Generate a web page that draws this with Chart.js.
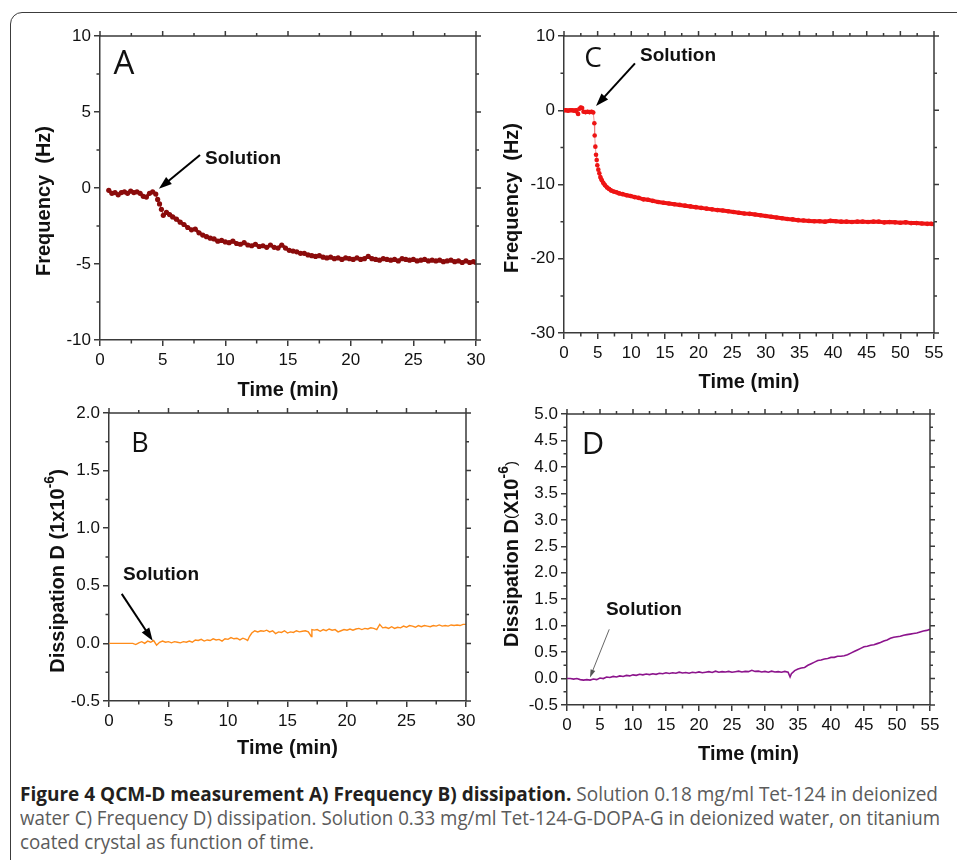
<!DOCTYPE html>
<html>
<head>
<meta charset="utf-8">
<script src="https://cdn.jsdelivr.net/npm/chart.js@4.4.1/dist/chart.umd.min.js"></script>
<style>
  html, body { margin: 0; padding: 0; background: #fff; width: 957px; height: 860px; overflow: hidden; }
  #frame { position: absolute; left: 10px; top: 12px; width: 1000px; height: 900px;
           border: 1.5px solid #3c3c3c; border-radius: 12px; box-sizing: border-box; }
  canvas { position: absolute; }
  #chartA { left: 0; top: 0; }
  #chartC { left: 480px; top: 0; }
  #chartB { left: 0; top: 390px; }
  #chartD { left: 480px; top: 390px; }
  .cap { position: absolute; left: 20px; white-space: nowrap; font-family: "Open Sans", sans-serif;
         font-size: 20px; line-height: 24px; color: #5b5b5b; transform-origin: 0 0; }
  .cap b { color: #231f20; font-weight: 700; }
</style>
</head>
<body>
<div id="frame"></div>
<canvas id="chartA" width="495" height="400"></canvas>
<canvas id="chartB" width="480" height="380"></canvas>
<canvas id="chartC" width="477" height="400"></canvas>
<canvas id="chartD" width="477" height="380"></canvas>
<div class="cap" style="top:782px"><b>Figure 4 QCM-D measurement A) Frequency B) dissipation.</b> Solution 0.18 mg/ml Tet-124 in deionized</div>
<div class="cap" style="top:806px">water C) Frequency D) dissipation. Solution 0.33 mg/ml Tet-124-G-DOPA-G in deionized water, on titanium</div>
<div class="cap" style="top:830px">coated crystal as function of time.</div>

<script>
// A: frequency shift, Tet-124 (min, Hz)
const timeA = [0.7, 0.95, 1.2, 1.45, 1.7, 1.95, 2.2, 2.45, 2.7, 2.95, 3.2, 3.45, 3.7, 3.95, 4.2, 4.45,
  4.6, 4.75, 4.9, 5.05, 5.3, 5.55, 5.8, 6.1, 6.4, 6.7, 7.0, 7.3, 7.6, 7.9, 8.2, 8.5, 8.8, 9.1, 9.4, 9.7,
  10.0, 10.3, 10.6, 10.9, 11.2, 11.5, 11.8, 12.1, 12.4, 12.7, 13.0, 13.3, 13.6, 13.9, 14.2, 14.5, 14.8,
  15.1, 15.4, 15.7, 16.0, 16.3, 16.6, 16.9, 17.2, 17.5, 17.8, 18.1, 18.4, 18.7, 19.0, 19.3, 19.6, 19.9,
  20.2, 20.5, 20.8, 21.1, 21.4, 21.7, 22.0, 22.3, 22.6, 22.9, 23.2, 23.5, 23.8, 24.1, 24.4, 24.7, 25.0,
  25.3, 25.6, 25.9, 26.2, 26.5, 26.8, 27.1, 27.4, 27.7, 28.0, 28.3, 28.6, 28.9, 29.2, 29.5, 29.8, 30.0];
const freqA = [-0.15, -0.35, -0.3, -0.45, -0.3, -0.25, -0.35, -0.2, -0.3, -0.25, -0.35, -0.55, -0.6, -0.35, -0.25, -0.4,
  -0.75, -1.05, -1.4, -1.8, -1.6, -1.75, -1.9, -2.05, -2.25, -2.4, -2.6, -2.75, -2.7, -2.95, -3.1, -3.2, -3.3, -3.35, -3.5, -3.45,
  -3.55, -3.6, -3.5, -3.65, -3.7, -3.6, -3.75, -3.8, -3.7, -3.85, -3.8, -3.9, -3.75, -3.9, -3.95, -3.75, -3.95,
  -4.1, -4.15, -4.2, -4.3, -4.3, -4.4, -4.45, -4.5, -4.45, -4.55, -4.6, -4.55, -4.65, -4.6, -4.7, -4.6, -4.65,
  -4.7, -4.6, -4.7, -4.65, -4.5, -4.65, -4.7, -4.75, -4.65, -4.7, -4.75, -4.7, -4.8, -4.65, -4.7, -4.75, -4.7,
  -4.8, -4.75, -4.7, -4.8, -4.75, -4.8, -4.75, -4.85, -4.8, -4.75, -4.85, -4.8, -4.9, -4.8, -4.9, -4.85, -4.9];

// B: dissipation, Tet-124 (min, 1e-6)
const timeB = [0, 0.25, 0.5, 0.75, 1.0, 1.25, 1.5, 1.75, 2.0, 2.25, 2.5, 2.75, 3.0, 3.25, 3.5, 3.75, 4.0,
  4.25, 4.5, 4.75, 5.0, 5.25, 5.5, 5.75, 6.0, 6.25, 6.5, 6.75, 7.0, 7.25, 7.5, 7.75, 8.0, 8.25, 8.5, 8.75,
  9.0, 9.25, 9.5, 9.75, 10.0, 10.25, 10.5, 10.75, 11.0, 11.25, 11.5, 11.65, 11.8, 12.0, 12.25, 12.5, 12.75,
  13.0, 13.25, 13.5, 13.75, 14.0, 14.25, 14.5, 14.75, 15.0, 15.25, 15.5, 15.75, 16.0, 16.25, 16.5, 16.75,
  17.0, 17.05, 17.25, 17.5, 17.75, 18.0, 18.25, 18.5, 18.75, 19.0, 19.25, 19.5, 19.75, 20.0, 20.25, 20.5,
  20.75, 21.0, 21.25, 21.5, 21.75, 22.0, 22.25, 22.5, 22.75, 23.0, 23.25, 23.5, 23.75, 24.0, 24.25, 24.5,
  24.75, 25.0, 25.25, 25.5, 25.75, 26.0, 26.25, 26.5, 26.75, 27.0, 27.25, 27.5, 27.75, 28.0, 28.25, 28.5,
  28.75, 29.0, 29.25, 29.5, 29.75, 30.0];
const dissB = [0, 0, 0, 0, 0, 0, 0, 0, 0, -0.01, 0.005, 0.015, 0, 0.02, 0.01, 0.025, -0.015,
  0.01, 0.02, 0.01, 0.015, 0.005, 0.015, 0.01, 0.005, 0.015, 0.01, 0.02, 0.01, 0.03, 0.025, 0.035, 0.02, 0.03, 0.025, 0.04,
  0.03, 0.035, 0.02, 0.04, 0.035, 0.05, 0.04, 0.045, 0.03, 0.045, 0.035, 0.025, 0.06, 0.09, 0.11, 0.1, 0.11,
  0.105, 0.115, 0.1, 0.11, 0.085, 0.1, 0.095, 0.11, 0.09, 0.1, 0.095, 0.11, 0.1, 0.105, 0.11, 0.1,
  0.06, 0.12, 0.115, 0.12, 0.105, 0.12, 0.11, 0.125, 0.115, 0.12, 0.1, 0.11, 0.12, 0.115, 0.125, 0.115,
  0.125, 0.13, 0.12, 0.13, 0.125, 0.135, 0.13, 0.12, 0.165, 0.135, 0.14, 0.13, 0.145, 0.13, 0.14, 0.135,
  0.15, 0.14, 0.155, 0.15, 0.14, 0.155, 0.145, 0.155, 0.15, 0.145, 0.155, 0.15, 0.16, 0.15, 0.155, 0.15,
  0.16, 0.155, 0.16, 0.155, 0.165, 0.165];

// C: frequency shift, Tet-124-G-DOPA-G (min, Hz)
const timeC = [0, 0.3, 0.6, 0.9, 1.2, 1.5, 1.8, 2.1, 2.3, 2.5, 2.7, 2.9, 3.2, 3.5, 3.8, 4.1, 4.35,
  4.51, 4.56, 4.66, 4.76, 4.86, 4.95, 5.1, 5.25, 5.4, 5.6, 5.85, 6.1, 6.4, 6.7, 7.0, 7.4, 7.8, 8.2, 8.7,
  9.3, 9.9, 10.5, 11.1, 11.8, 12.5, 13.2, 14.0, 14.8, 15.6, 16.4, 17.2, 18.0, 18.8, 19.6, 20.4, 21.2,
  22.0, 22.8, 23.6, 24.4, 25.2, 26.0, 26.8, 27.6, 28.4, 29.2, 30.0, 30.8, 31.6, 32.4, 33.2, 34.0, 34.8,
  35.6, 36.4, 37.2, 38.0, 38.8, 39.6, 40.4, 41.2, 42.0, 42.8, 43.6, 44.4, 45.2, 46.0, 46.8, 47.6, 48.4,
  49.2, 50.0, 50.8, 51.6, 52.4, 53.2, 54.0, 54.6, 55.0];
const freqC = [0, 0, -0.05, 0, 0, -0.05, 0, -0.5, 0.2, 0.35, 0.3, -0.2, -0.25, -0.2, -0.25, -0.2, -0.3,
  -1.75, -3.4, -4.9, -6.0, -6.7, -7.4, -8.0, -8.5, -9.0, -9.4, -9.8, -10.1, -10.4, -10.6, -10.8, -10.95, -11.05, -11.2, -11.3,
  -11.45, -11.55, -11.7, -11.8, -12.0, -12.05, -12.2, -12.35, -12.45, -12.55, -12.65, -12.75, -12.85, -12.95, -13.05, -13.15, -13.25,
  -13.35, -13.45, -13.5, -13.6, -13.7, -13.8, -13.9, -13.95, -14.05, -14.15, -14.25, -14.35, -14.45, -14.55, -14.65, -14.7, -14.8,
  -14.85, -14.9, -14.95, -14.95, -15.0, -14.9, -14.95, -15.0, -15.0, -15.05, -15.0, -15.0, -15.05, -15.0, -15.0, -15.1, -15.05,
  -15.1, -15.15, -15.1, -15.2, -15.2, -15.25, -15.3, -15.3, -15.35];

// D: dissipation, Tet-124-G-DOPA-G (min, 1e-6)
const timeD = [0, 0.5, 1.0, 1.5, 2.0, 2.5, 3.0, 3.5, 4.0, 4.5, 5.0, 5.5, 6.0, 6.5, 7.0, 7.5, 8.0, 8.5,
  9.0, 9.5, 10.0, 10.5, 11.0, 11.5, 12.0, 12.5, 13.0, 13.5, 14.0, 14.5, 15.0, 15.5, 16.0, 16.5, 17.0, 17.5,
  18.0, 18.5, 19.0, 19.5, 20.0, 20.5, 21.0, 21.5, 22.0, 22.5, 23.0, 23.5, 24.0, 24.5, 25.0, 25.5, 26.0,
  26.5, 27.0, 27.5, 28.0, 28.5, 29.0, 29.5, 30.0, 30.5, 31.0, 31.5, 32.0, 32.5, 33.0, 33.5, 33.8, 34.0,
  34.5, 35.0, 35.5, 36.0, 36.5, 37.0, 37.5, 38.0, 38.5, 39.0, 39.5, 40.0, 40.5, 41.0, 41.5, 42.0, 42.5,
  43.0, 43.5, 44.0, 44.5, 45.0, 45.5, 46.0, 46.5, 47.0, 47.5, 48.0, 48.5, 49.0, 49.5, 50.0, 50.5, 51.0,
  51.5, 52.0, 52.5, 53.0, 53.5, 54.0, 54.5, 55.0];
const dissD = [0, 0, -0.01, 0, -0.02, -0.03, -0.02, -0.03, -0.01, -0.02, 0.01, 0, 0.03, 0.02, 0.04, 0.03, 0.05, 0.04,
  0.06, 0.05, 0.07, 0.06, 0.08, 0.07, 0.085, 0.075, 0.09, 0.08, 0.1, 0.09, 0.11, 0.095, 0.11, 0.1, 0.12, 0.105,
  0.115, 0.1, 0.12, 0.11, 0.125, 0.11, 0.12, 0.13, 0.115, 0.14, 0.12, 0.13, 0.125, 0.135, 0.12, 0.13, 0.14,
  0.125, 0.135, 0.13, 0.155, 0.135, 0.14, 0.125, 0.135, 0.12, 0.14, 0.125, 0.13, 0.12, 0.135, 0.12, 0.03, 0.09,
  0.15, 0.18, 0.2, 0.21, 0.25, 0.28, 0.31, 0.34, 0.35, 0.37, 0.38, 0.4, 0.4, 0.42, 0.42, 0.43, 0.45,
  0.48, 0.51, 0.54, 0.57, 0.6, 0.61, 0.63, 0.64, 0.66, 0.68, 0.71, 0.73, 0.76, 0.78, 0.79, 0.8, 0.82,
  0.83, 0.84, 0.85, 0.86, 0.88, 0.9, 0.91, 0.93];

const ink = '#3a3a3a';
const sans = '"Liberation Sans", Arial, sans-serif';

const points = (ts, vs) => ts.map((t, i) => ({ x: t, y: vs[i] }));

// frame, mirrored/minor ticks, axis titles, panel letter and the "Solution" arrow
const decor = {
  id: 'decor',
  afterDraw(chart, args, o) {
    const ctx = chart.ctx;
    const { left, right, top, bottom } = chart.chartArea;
    const xs = chart.scales.x, ys = chart.scales.y;
    const mids = tk => tk.slice(1).map((k, i) => (tk[i].value + k.value) / 2);
    ctx.save();
    ctx.strokeStyle = ink;
    ctx.lineWidth = 1.5;
    ctx.beginPath();
    ctx.moveTo(left, top); ctx.lineTo(right, top); ctx.lineTo(right, bottom);
    xs.ticks.forEach(t => { const p = xs.getPixelForValue(t.value); ctx.moveTo(p, top); ctx.lineTo(p, top - 5); });
    mids(xs.ticks).forEach(v => {
      const p = xs.getPixelForValue(v);
      ctx.moveTo(p, top); ctx.lineTo(p, top - 3);
      ctx.moveTo(p, bottom); ctx.lineTo(p, bottom + 3.5);
    });
    ys.ticks.forEach(t => { const p = ys.getPixelForValue(t.value); ctx.moveTo(right, p); ctx.lineTo(right + 5, p); });
    mids(ys.ticks).forEach(v => {
      const p = ys.getPixelForValue(v);
      ctx.moveTo(right, p); ctx.lineTo(right + 3, p);
      ctx.moveTo(left, p); ctx.lineTo(left - 3.5, p);
    });
    ctx.stroke();

    ctx.fillStyle = '#111';
    // x title
    ctx.font = 'bold 20px ' + sans;
    ctx.textAlign = 'center';
    ctx.textBaseline = 'middle';
    ctx.fillText('Time (min)', (left + right) / 2, o.xTitleY);

    // y title, rotated, built from parts (superscripts raised)
    ctx.save();
    ctx.translate(o.yTitle.x, o.yTitle.y);
    ctx.rotate(-Math.PI / 2);
    ctx.textAlign = 'left';
    const fontOf = p => p.sup ? 'bold 14px ' + sans : p.small ? '15px ' + sans : 'bold 20px ' + sans;
    let total = 0;
    o.yTitle.parts.forEach(p => { ctx.font = fontOf(p); total += ctx.measureText(p.t).width; });
    let cx = -total / 2;
    o.yTitle.parts.forEach(p => {
      ctx.font = fontOf(p);
      ctx.fillText(p.t, cx, p.sup ? -8 : 0);
      cx += ctx.measureText(p.t).width;
    });
    ctx.restore();

    // panel letter
    ctx.font = o.letter.size + 'px "Open Sans", sans-serif';
    ctx.textAlign = 'center';
    ctx.textBaseline = 'alphabetic';
    ctx.fillText(o.letter.text, o.letter.x, o.letter.y + o.letter.size * 0.357);

    // annotation
    const n = o.note;
    ctx.font = 'bold 19px ' + sans;
    ctx.textAlign = 'left';
    ctx.textBaseline = 'middle';
    ctx.fillText('Solution', xs.getPixelForValue(n.at[0]), ys.getPixelForValue(n.at[1]));
    const x0 = xs.getPixelForValue(n.from[0]), y0 = ys.getPixelForValue(n.from[1]);
    const x1 = xs.getPixelForValue(n.to[0]), y1 = ys.getPixelForValue(n.to[1]);
    const ang = Math.atan2(y1 - y0, x1 - x0);
    const head = n.thin ? 8 : 13, half = n.thin ? 2.5 : 4.5;
    ctx.strokeStyle = n.thin ? '#555' : '#000';
    ctx.fillStyle = n.thin ? '#555' : '#000';
    ctx.lineWidth = n.thin ? 0.9 : 2;
    ctx.beginPath();
    ctx.moveTo(x0, y0);
    ctx.lineTo(x1 - Math.cos(ang) * head * 0.8, y1 - Math.sin(ang) * head * 0.8);
    ctx.stroke();
    ctx.beginPath();
    ctx.moveTo(x1, y1);
    ctx.lineTo(x1 - Math.cos(ang) * head - Math.sin(ang) * half, y1 - Math.sin(ang) * head + Math.cos(ang) * half);
    ctx.lineTo(x1 - Math.cos(ang) * head + Math.sin(ang) * half, y1 - Math.sin(ang) * head - Math.cos(ang) * half);
    ctx.closePath();
    ctx.fill();
    ctx.restore();
  }
};

function axis(kind, min, max, step, box, decimals) {
  return {
    type: 'linear', min, max,
    afterFit: s => { if (kind === 'x') s.height = box; else s.width = box; },
    border: { display: true, color: ink, width: 1.5 },
    grid: { display: true, drawOnChartArea: false, drawTicks: true, tickLength: 6, color: ink, lineWidth: 1.5 },
    ticks: {
      stepSize: step, autoSkip: false, maxRotation: 0,
      padding: kind === 'x' ? 4 : 3,
      color: '#111',
      font: { family: sans, size: 17 },
      callback: v => decimals ? v.toFixed(decimals) : String(v)
    }
  };
}

function panel(id, dataset, pad, xAxis, yAxis, decorOpts) {
  return new Chart(document.getElementById(id), {
    type: 'line',
    data: { datasets: [dataset] },
    options: {
      responsive: false, animation: false, devicePixelRatio: 1,
      layout: { padding: pad },
      plugins: { legend: { display: false }, tooltip: { enabled: false }, decor: decorOpts },
      scales: { x: xAxis, y: yAxis }
    },
    plugins: [decor]
  });
}

// steep parts (the injection jump) are drawn with a hairline between the dots
const steep = (c, limit) => Math.abs((c.p1.parsed.y - c.p0.parsed.y) / (c.p1.parsed.x - c.p0.parsed.x)) > limit;

panel('chartA', {
  data: points(timeA, freqA),
  borderColor: '#8b0b0b', backgroundColor: '#8b0b0b', borderWidth: 3.2,
  pointRadius: 2.6, pointBorderWidth: 0, pointBackgroundColor: '#8b0b0b',
  segment: { borderWidth: c => steep(c, 1.5) ? 0.8 : 3.2 }
}, { left: 0, top: 36, right: 19, bottom: 0 },
  axis('x', 0, 30, 5, 60), axis('y', -10, 10, 5, 100),
  { xTitleY: 390, yTitle: { x: 44.5, y: 201, parts: [{ t: 'Frequency  (Hz)' }] },
    letter: { text: 'A', x: 124, y: 62, size: 33 },
    note: { at: [8.38, 1.91], from: [7.98, 2.17], to: [4.7, -0.05] } });

panel('chartC', {
  data: points(timeC, freqC),
  borderColor: '#ee1414', backgroundColor: '#ee1414', borderWidth: 4,
  pointRadius: 2.3, pointBorderWidth: 0, pointBackgroundColor: '#ee1414',
  segment: {
    borderWidth: c => steep(c, 2.5) ? 0.8 : 4,
    borderColor: c => steep(c, 2.5) ? '#e77' : '#ee1414'
  }
}, { left: 0, top: 36, right: 23, bottom: 0 },
  axis('x', 0, 55, 5, 67), axis('y', -30, 10, 10, 84),
  { xTitleY: 382, yTitle: { x: 32, y: 198, parts: [{ t: 'Frequency  (Hz)' }] },
    letter: { text: 'C', x: 113, y: 57, size: 28 },
    note: { at: [11.3, 7.3], from: [10.55, 6.32], to: [4.76, 0.57] } });

panel('chartB', {
  data: points(timeB, dissB),
  borderColor: '#ff8c1a', borderWidth: 1.4, pointRadius: 0
}, { left: 0, top: 23, right: 14, bottom: 0 },
  axis('x', 0, 30, 5, 69), axis('y', -0.5, 2.0, 0.5, 109, 1),
  { xTitleY: 358, yTitle: { x: 58, y: 181, parts: [{ t: 'Dissipation D (1x10' }, { t: '-6', sup: true }, { t: ')' }] },
    letter: { text: 'B', x: 140, y: 52, size: 27 },
    note: { at: [1.18, 0.6], from: [1.07, 0.43], to: [3.67, 0.023] } });

panel('chartD', {
  data: points(timeD, dissD),
  borderColor: '#8c148c', borderWidth: 1.6, pointRadius: 0
}, { left: 0, top: 24, right: 27, bottom: 0 },
  axis('x', 0, 55, 5, 65), axis('y', -0.5, 5.0, 0.5, 87, 1),
  { xTitleY: 364, yTitle: { x: 32, y: 164, parts: [{ t: 'Dissipation D' }, { t: '(', small: true }, { t: 'X10' }, { t: '-6', sup: true }, { t: ')', small: true }] },
    letter: { text: 'D', x: 113, y: 53, size: 31 },
    note: { at: [5.9, 1.295], from: [6.4, 0.93], to: [3.48, 0.02], thin: true } });

// squeeze the caption lines so the two full lines span the frame width
const caps = document.querySelectorAll('.cap');
const squeeze1 = 918 / caps[0].getBoundingClientRect().width;
const squeeze2 = 920 / caps[1].getBoundingClientRect().width;
caps[0].style.transform = 'scaleX(' + squeeze1 + ')';
caps[1].style.transform = 'scaleX(' + squeeze2 + ')';
caps[2].style.transform = 'scaleX(' + squeeze2 + ')';
</script>
</body>
</html>
